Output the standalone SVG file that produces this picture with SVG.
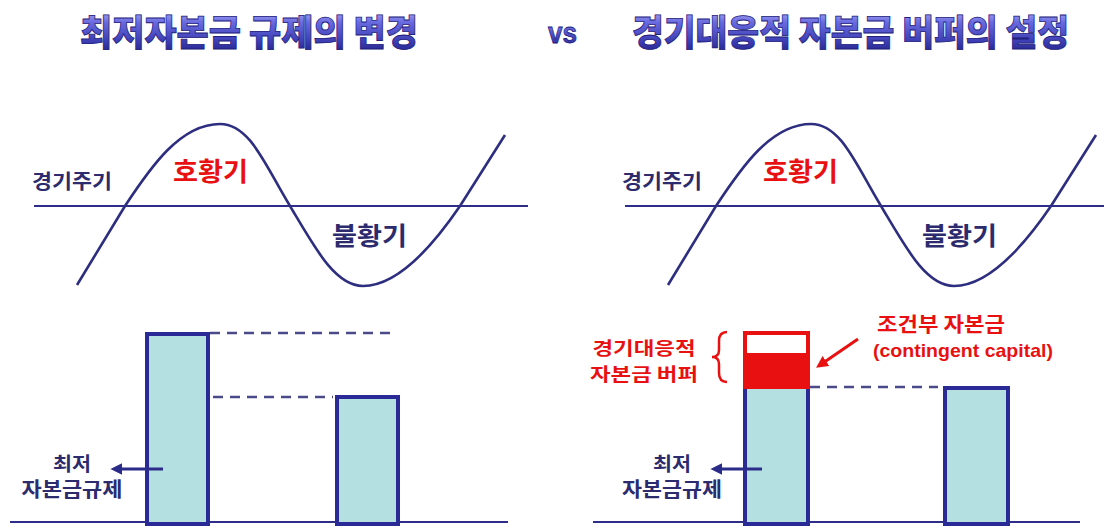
<svg xmlns="http://www.w3.org/2000/svg" width="1110" height="526" viewBox="0 0 1110 526">
  <defs>
    <linearGradient id="titleGrad" x1="0" y1="0" x2="0" y2="1">
      <stop offset="0" stop-color="#d0d0ff"/>
      <stop offset="0.35" stop-color="#6a6ae0"/>
      <stop offset="0.75" stop-color="#3a3ab0"/>
      <stop offset="1" stop-color="#1c1c78"/>
    </linearGradient>
    <marker id="navyHead" viewBox="0 0 10 10" refX="2" refY="5" markerWidth="4" markerHeight="4" orient="auto">
      <path d="M0,0 L10,5 L0,10 z" fill="#2b2b8a"/>
    </marker>
    <marker id="redHead" viewBox="0 0 10 10" refX="3" refY="5" markerWidth="4" markerHeight="4" orient="auto">
      <path d="M0,0 L10,5 L0,10 z" fill="#e81010"/>
    </marker>
    <style>
      .title { font-family: "Noto Sans CJK KR", "Noto Sans", sans-serif; font-weight: 900; font-size: 36px; fill: url(#titleGrad); stroke: #20207a; stroke-width: 0.8; }
      .lbl { font-family: "Noto Sans CJK KR", "Noto Sans", sans-serif; font-weight: 700; fill: #2b2b6e; }
      .red { font-family: "Noto Sans CJK KR", "Noto Sans", sans-serif; font-weight: 700; fill: #e81010; }
      .axis { stroke: #2e2e8a; stroke-width: 2.2; fill: none; }
      .curve { stroke: #2e2e80; stroke-width: 2.6; fill: none; }
      .bar { fill: #b4e0e2; stroke: #2a2a96; stroke-width: 4; }
      .dash { stroke: #4a4a8a; stroke-width: 2.5; stroke-dasharray: 10 7; fill: none; }
      .navyArrow { stroke: #2b2b8a; stroke-width: 3; fill: none; }
      .redLine { stroke: #e81010; stroke-width: 3; fill: none; }
    </style>
  </defs>
  <rect width="1110" height="526" fill="#ffffff"/>

  <!-- titles -->
  <g id="title-left">
    <text class="title" x="80" y="46" textLength="338" lengthAdjust="spacingAndGlyphs">최저자본금 규제의 변경</text>
  </g>
  <g id="title-vs">
    <text x="548" y="43" font-family="Liberation Sans, sans-serif" font-weight="700" font-size="30" fill="url(#titleGrad)" stroke="#20207a" stroke-width="0.8" textLength="29" lengthAdjust="spacingAndGlyphs">vs</text>
  </g>
  <g id="title-right">
    <text class="title" x="632" y="46" textLength="437" lengthAdjust="spacingAndGlyphs">경기대응적 자본금 버퍼의 설정</text>
  </g>

  <!-- business cycle left -->
  <g id="cycle-left">
    <line class="axis" x1="34" y1="206" x2="528" y2="206"/>
    <path class="curve" d="M77,285 L125,206 C150,168 180,124 220,124 C250,124 265,165 290,206 C315,248 335,286 363,286 C395,286 430,250 460,206 L505,135"/>
    <text class="lbl" x="32" y="189" font-size="20" textLength="80" lengthAdjust="spacingAndGlyphs">경기주기</text>
    <text class="red" x="173" y="181" font-size="26" textLength="75" lengthAdjust="spacingAndGlyphs">호황기</text>
    <text class="lbl" x="332" y="245" font-size="25" textLength="75" lengthAdjust="spacingAndGlyphs">불황기</text>
  </g>

  <!-- business cycle right -->
  <g id="cycle-right">
    <line class="axis" x1="625" y1="206" x2="1104" y2="206"/>
    <path class="curve" transform="translate(591,0)" d="M77,285 L125,206 C150,168 180,124 220,124 C250,124 265,165 290,206 C315,248 335,286 363,286 C395,286 430,250 460,206 L505,135"/>
    <text class="lbl" x="622" y="189" font-size="20" textLength="80" lengthAdjust="spacingAndGlyphs">경기주기</text>
    <text class="red" x="763" y="181" font-size="26" textLength="75" lengthAdjust="spacingAndGlyphs">호황기</text>
    <text class="lbl" x="922" y="245" font-size="25" textLength="75" lengthAdjust="spacingAndGlyphs">불황기</text>
  </g>

  <!-- left bars -->
  <g id="bars-left">
    <line class="axis" x1="10" y1="522" x2="508" y2="522"/>
    <rect id="bar-left-1" class="bar" x="147" y="334" width="61" height="190"/>
    <rect id="bar-left-2" class="bar" x="337" y="397" width="61" height="127"/>
  </g>
  <g id="label-left-min">
    <text class="lbl" x="72" y="471" font-size="19" text-anchor="middle" textLength="38" lengthAdjust="spacingAndGlyphs">최저</text>
    <text class="lbl" x="72" y="497" font-size="20" text-anchor="middle" textLength="101" lengthAdjust="spacingAndGlyphs">자본금규제</text>
  </g>

  <!-- right bars -->
  <g id="bars-right">
    <line class="axis" x1="593" y1="522" x2="1080" y2="522"/>
    <rect id="bar-right-1" class="bar" x="745" y="387" width="63" height="137"/>
    <rect id="bar-right-2" class="bar" x="945" y="388" width="63" height="136"/>
  </g>
  <g id="buffer">
    <rect x="745" y="333" width="63" height="54" fill="#ffffff" stroke="#e81010" stroke-width="4"/>
    <rect x="745" y="355" width="63" height="32" fill="#e81010" stroke="#e81010" stroke-width="4"/>
  </g>
  <g id="label-right-min">
    <text class="lbl" x="672" y="471" font-size="19" text-anchor="middle" textLength="38" lengthAdjust="spacingAndGlyphs">최저</text>
    <text class="lbl" x="672" y="497" font-size="20" text-anchor="middle" textLength="100" lengthAdjust="spacingAndGlyphs">자본금규제</text>
  </g>
  <g id="label-buffer">
    <text class="red" x="644" y="355" font-size="18" text-anchor="middle" textLength="103" lengthAdjust="spacingAndGlyphs">경기대응적</text>
    <text class="red" x="644" y="381" font-size="18" text-anchor="middle" textLength="108" lengthAdjust="spacingAndGlyphs">자본금 버퍼</text>
    <path d="M727,332 Q719,332 719,341 L719,350 Q719,357 712,357 Q719,357 719,364 L719,373 Q719,382 727,382" fill="none" stroke="#e81010" stroke-width="2.5"/>
  </g>
  <g id="label-contingent">
    <text class="red" x="877" y="332" font-size="20" textLength="128" lengthAdjust="spacingAndGlyphs">조건부 자본금</text>
    <text x="873" y="357" font-family="Liberation Sans, sans-serif" font-weight="700" font-size="19" fill="#e81010" textLength="180" lengthAdjust="spacingAndGlyphs">(contingent capital)</text>
  </g>

  <!-- connectors -->
  <g id="connectors">
    <line class="dash" x1="210" y1="333" x2="395" y2="333"/>
    <line class="dash" x1="213" y1="397" x2="333" y2="397"/>
    <line class="dash" x1="810" y1="387" x2="938" y2="387"/>
    <line class="navyArrow" x1="163" y1="469" x2="120" y2="469" marker-end="url(#navyHead)"/>
    <line class="navyArrow" x1="762" y1="469" x2="720" y2="469" marker-end="url(#navyHead)"/>
    <line class="redLine" x1="858" y1="339" x2="823" y2="363" marker-end="url(#redHead)"/>
  </g>
</svg>
